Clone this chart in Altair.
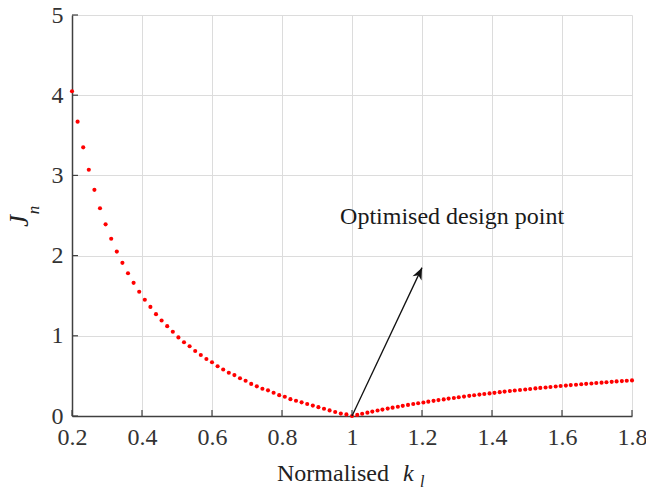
import altair as alt
import pandas as pd

# ---- data ----
k_left = [0.200, 0.216, 0.232, 0.248, 0.264, 0.280, 0.296, 0.312, 0.328, 0.344,
          0.360, 0.376, 0.392, 0.408, 0.424, 0.440, 0.456, 0.472, 0.488, 0.504,
          0.520, 0.536, 0.552, 0.568, 0.584, 0.600, 0.616, 0.632, 0.648, 0.664,
          0.680, 0.696, 0.712, 0.728, 0.744, 0.760, 0.776, 0.792, 0.808, 0.824,
          0.840, 0.856, 0.872, 0.888, 0.904, 0.920, 0.936, 0.952, 0.968, 0.984,
          1.000]
j_left = [4.05, 3.67, 3.35, 3.07, 2.82, 2.59, 2.39, 2.21, 2.05, 1.91,
          1.78, 1.66, 1.55, 1.45, 1.36, 1.27, 1.19, 1.12, 1.05, 0.98,
          0.92, 0.87, 0.81, 0.76, 0.71, 0.67, 0.62, 0.58, 0.54, 0.51,
          0.47, 0.44, 0.40, 0.37, 0.34, 0.32, 0.29, 0.26, 0.24, 0.21,
          0.19, 0.17, 0.15, 0.13, 0.11, 0.09, 0.07, 0.05, 0.03, 0.02,
          0.00]
k_right = [1.015, 1.029, 1.044, 1.058, 1.073, 1.087, 1.102, 1.116, 1.131, 1.145,
           1.160, 1.175, 1.189, 1.204, 1.218, 1.233, 1.247, 1.262, 1.276, 1.291,
           1.305, 1.320, 1.335, 1.349, 1.364, 1.378, 1.393, 1.407, 1.422, 1.436,
           1.451, 1.465, 1.480, 1.495, 1.509, 1.524, 1.538, 1.553, 1.567, 1.582,
           1.596, 1.611, 1.625, 1.640, 1.655, 1.669, 1.684, 1.698, 1.713, 1.727,
           1.742, 1.756, 1.771, 1.785, 1.800]
j_right = [0.014, 0.028, 0.042, 0.055, 0.068, 0.080, 0.092, 0.104, 0.116, 0.127,
           0.138, 0.149, 0.159, 0.169, 0.179, 0.189, 0.198, 0.207, 0.217, 0.225,
           0.234, 0.242, 0.251, 0.259, 0.267, 0.274, 0.282, 0.289, 0.297, 0.304,
           0.311, 0.318, 0.324, 0.331, 0.337, 0.344, 0.350, 0.356, 0.362, 0.368,
           0.374, 0.379, 0.385, 0.390, 0.396, 0.401, 0.406, 0.411, 0.416, 0.421,
           0.426, 0.431, 0.435, 0.440, 0.444]

x_ticks = [0.2, 0.4, 0.6, 0.8, 1.0, 1.2, 1.4, 1.6, 1.8]
y_ticks = [0, 1, 2, 3, 4, 5]

arrow_from = [1.0, 0.0]
arrow_to = [1.2, 1.85]
note_text = "Optimised design point"
note_pos = [1.286, 2.48]

# ---- tables ----
pts = pd.DataFrame({"k": k_left + k_right, "J": j_left + j_right})
xt = pd.DataFrame({"v": x_ticks})
yt = pd.DataFrame({"v": y_ticks})
arr = pd.DataFrame({"x": [arrow_from[0]], "y": [arrow_from[1]],
                    "x2": [arrow_to[0]], "y2": [arrow_to[1]]})
note = pd.DataFrame({"x": [note_pos[0]], "y": [note_pos[1]], "t": [note_text]})

W, H = 560, 401
SERIF = "Times New Roman, Liberation Serif, serif"
AX = "#404040"

xs = alt.Scale(domain=[0.2, 1.8], nice=False, zero=False)
ys = alt.Scale(domain=[0, 5], nice=False, zero=False)

x_axis = alt.Axis(values=x_ticks, format=".1~f", grid=True, gridColor="#dcdcdc",
                  gridWidth=1, domainColor=AX, domainWidth=1.5, tickSize=0,
                  labelFont=SERIF, labelFontSize=24, labelColor="#333333",
                  labelPadding=9, labelOverlap=False, labelFlush=False,
                  labelBound=False, title=None)
y_axis = alt.Axis(values=y_ticks, format="d", grid=True, gridColor="#dcdcdc",
                  gridWidth=1, domainColor=AX, domainWidth=1.5, tickSize=0,
                  labelFont=SERIF, labelFontSize=24, labelColor="#333333",
                  labelPadding=9, labelOverlap=False, labelFlush=False,
                  labelBound=False, title=None)

base = alt.Chart(pts).mark_circle(size=17, color="#ff0000", opacity=1).encode(
    x=alt.X("k:Q", scale=xs, axis=x_axis),
    y=alt.Y("J:Q", scale=ys, axis=y_axis),
)

xtick_marks = alt.Chart(xt).mark_rule(color=AX, strokeWidth=1.2).encode(
    x=alt.X("v:Q", scale=xs), y=alt.value(H), y2=alt.value(H - 6))
ytick_marks = alt.Chart(yt).mark_rule(color=AX, strokeWidth=1.2).encode(
    y=alt.Y("v:Q", scale=ys), x=alt.value(0), x2=alt.value(6))

arrow_line = alt.Chart(arr).mark_rule(color="#111111", strokeWidth=1.3).encode(
    x=alt.X("x:Q", scale=xs), y=alt.Y("y:Q", scale=ys),
    x2="x2:Q", y2="y2:Q")
arrow_head = alt.Chart(arr).mark_point(
    shape="M0,0L0.42,1L0,0.72L-0.42,1Z", size=560, filled=True,
    color="#111111", opacity=1, angle=25).encode(
    x=alt.X("x2:Q", scale=xs), y=alt.Y("y2:Q", scale=ys))

note_mark = alt.Chart(note).mark_text(font=SERIF, fontSize=24, color="#1a1a1a",
                                      align="center", baseline="middle").encode(
    x=alt.X("x:Q", scale=xs), y=alt.Y("y:Q", scale=ys), text="t:N")

lbl = pd.DataFrame({"a": [0]})
xt1 = alt.Chart(lbl).mark_text(text="Normalised", font=SERIF, fontSize=24,
                               color="#222222", align="left",
                               baseline="alphabetic").encode(
    x=alt.value(205), y=alt.value(466))
xt2 = alt.Chart(lbl).mark_text(text="k", font=SERIF, fontSize=24, fontStyle="italic",
                               color="#222222", align="left",
                               baseline="alphabetic").encode(
    x=alt.value(331), y=alt.value(466))
xt3 = alt.Chart(lbl).mark_text(text="l", font=SERIF, fontSize=16, fontStyle="italic",
                               color="#222222", align="left",
                               baseline="alphabetic").encode(
    x=alt.value(348), y=alt.value(472))
yt1 = alt.Chart(lbl).mark_text(text="J", font=SERIF, fontSize=27, fontStyle="italic",
                               color="#222222", align="center", angle=270,
                               baseline="alphabetic").encode(
    x=alt.value(-44), y=alt.value(206))
yt2 = alt.Chart(lbl).mark_text(text="n", font=SERIF, fontSize=17, fontStyle="italic",
                               color="#222222", align="center", angle=270,
                               baseline="alphabetic").encode(
    x=alt.value(-33), y=alt.value(195))

chart = alt.layer(
    base, xtick_marks, ytick_marks, arrow_line, arrow_head, note_mark,
    xt1, xt2, xt3, yt1, yt2
).properties(
    width=W, height=H,
    autosize=alt.AutoSizeParams(type="none"),
    padding={"left": 72, "top": 15, "right": 14, "bottom": 74},
    background="white",
).configure_view(strokeWidth=0)

chart.save("out.html", embed_options={"renderer": "svg", "actions": False})
